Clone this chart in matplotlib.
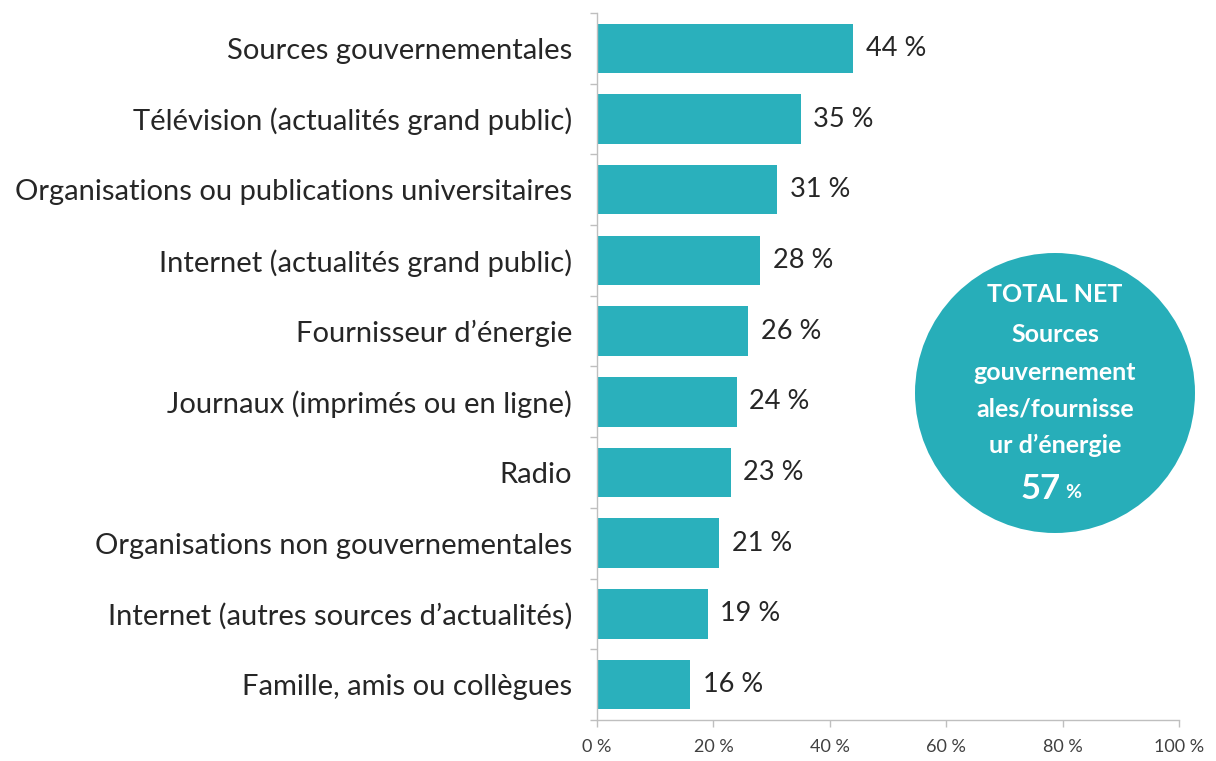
import matplotlib
matplotlib.use("Agg")
import matplotlib.pyplot as plt
from matplotlib.patches import Circle

plt.rcParams['font.family'] = ['Lato', 'DejaVu Sans']

categories = [
    "Sources gouvernementales",
    "Télévision (actualités grand public)",
    "Organisations ou publications universitaires",
    "Internet (actualités grand public)",
    "Fournisseur d’énergie",
    "Journaux (imprimés ou en ligne)",
    "Radio",
    "Organisations non gouvernementales",
    "Internet (autres sources d’actualités)",
    "Famille, amis ou collègues",
]
values = [44, 35, 31, 28, 26, 24, 23, 21, 19, 16]
x_ticks = [0, 20, 40, 60, 80, 100]
net_label = ["TOTAL NET", "Sources", "gouvernement", "ales/fournisse", "ur d’énergie"]
net_value = 57

bar_color = "#2AB0BC"
grey = "#BFBFBF"
W, H = 12.16, 7.61

fig = plt.figure(figsize=(W, H), dpi=100)
ax = fig.add_axes([0.491, 0.0539, 0.4786, 0.929])

n = len(categories)
pos = list(range(n))
ax.barh(pos, values, height=0.7, color=bar_color)
for p, v in zip(pos, values):
    ax.annotate(f"{v} %", (v, p), xytext=(9, 0), textcoords="offset points",
                va="center", ha="left", fontsize=19.5, color="#262626")

ax.set_xlim(0, 100)
ax.set_ylim(n - 0.5, -0.5)

# category labels on minor ticks, tick marks between bars
ax.set_yticks([i - 0.5 for i in range(n + 1)])
ax.set_yticklabels([])
ax.set_yticks(pos, minor=True)
ax.set_yticklabels(categories, minor=True, fontsize=21, color="#262626")
ax.tick_params(axis="y", which="major", length=5, color=grey, width=1)
ax.tick_params(axis="y", which="minor", length=0, pad=18)

ax.set_xticks(x_ticks)
ax.set_xticklabels([f"{t} %" for t in x_ticks], fontsize=13, color="#404040")
ax.tick_params(axis="x", length=5, color=grey, width=1, pad=9)

for s in ["top", "right"]:
    ax.spines[s].set_visible(False)
for s in ["left", "bottom"]:
    ax.spines[s].set_color(grey)
    ax.spines[s].set_linewidth(1)

# total net bubble (positions in pixels from the top-left corner)
cx, cy = 1055, 393
fig.patches.append(Circle((cx / 100, H - cy / 100), 1.40,
                          transform=fig.dpi_scale_trans,
                          facecolor="#27AEB9", edgecolor="none"))
line_y = [295, 335, 372, 409, 445]
for txt, yy in zip(net_label, line_y):
    fig.text(cx / 100 / W, 1 - yy / 100 / H, txt, ha="center", va="center",
             fontsize=18, fontweight="bold", color="white")
fig.text((cx + 6) / 100 / W, 1 - 489 / 100 / H, f"{net_value}", ha="right", va="center",
         fontsize=25, fontweight="bold", color="white")
fig.text((cx + 10) / 100 / W, 1 - 492 / 100 / H, "%", ha="left", va="center",
         fontsize=14, fontweight="bold", color="white")

fig.savefig("out.png", dpi=100)
